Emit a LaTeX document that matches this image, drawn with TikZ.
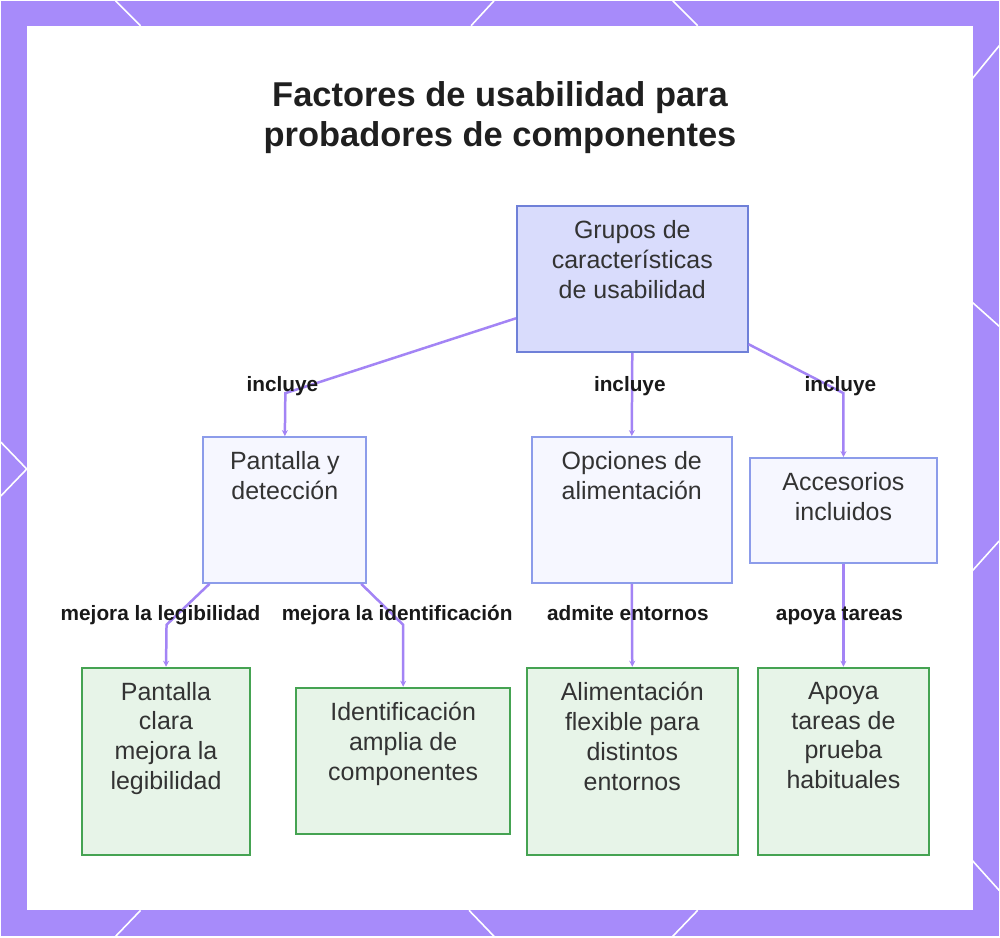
\documentclass[tikz,border=0pt]{standalone}
\usepackage{fontspec}
\setmainfont{Liberation Sans}
\usetikzlibrary{arrows.meta}
\definecolor{bandpurple}{HTML}{A78BFA}
\definecolor{linkpurple}{HTML}{A384F5}
\definecolor{rootfill}{HTML}{D9DCFC}
\definecolor{rootline}{HTML}{6F80D8}
\definecolor{midfill}{HTML}{F6F7FF}
\definecolor{midline}{HTML}{8C9CEA}
\definecolor{leaffill}{HTML}{E7F4E8}
\definecolor{leafline}{HTML}{45A352}
\definecolor{inkgray}{HTML}{333333}

\begin{document}
\begin{tikzpicture}[x=1pt,y=-1pt,
  rootbox/.style={draw=rootline,fill=rootfill,line width=2pt,minimum width=231pt,minimum height=146pt},
  midbox/.style={draw=midline,fill=midfill,line width=2pt},
  leafbox/.style={draw=leafline,fill=leaffill,line width=2pt},
  boxtext/.style={anchor=north,align=center,inner sep=0pt,text=inkgray,font=\fontsize{25}{30}\selectfont},
  linktext/.style={anchor=base,inner sep=0pt,text=black!90,font=\fontsize{20.8}{24}\selectfont\bfseries},
  link/.style={draw=linkpurple,line width=2.5pt,-{Stealth[length=6pt,width=6pt]}}]
% rahmen
\fill[bandpurple] (0,0) rectangle (1000,937);
\foreach \ax/\ay/\bx/\by in {115/0/140/25, 494/0/471/25, 673/0/698/25,
  140/911/115/937, 469/911/494/937, 698/911/673/937,
  973/78/1000/45, 973/302/1000/326, 973/571/1000/541, 973/861/1000/891,
  0/442/26/469, 26/469/0/496}
  {\draw[white,line width=1.6pt] (\ax,\ay) -- (\bx,\by);}
\fill[white] (26,25) rectangle (974,911);

% titel
\node[align=center,inner sep=0pt,text=black!88,font=\fontsize{34.5}{41}\selectfont\bfseries] (title) at (500,117) {Factores de usabilidad para\\probadores de componentes};

% kaesten
\node[rootbox] (root) at (632.5,279) {};
\node[boxtext] (roott) at ([yshift=-15pt]root.north) {Grupos de\\características\\de usabilidad};
\node[midbox,minimum width=163pt,minimum height=146pt] (pant) at (284.5,510) {};
\node[boxtext] (pantt) at ([yshift=-15pt]pant.north) {Pantalla y\\detección};
\node[midbox,minimum width=200pt,minimum height=146pt] (opc) at (632,510) {};
\node[boxtext] (opct) at ([yshift=-15pt]opc.north) {Opciones de\\alimentación};
\node[midbox,minimum width=188pt,minimum height=105pt] (acc) at (844,510.5) {};
\node[boxtext] (acct) at ([yshift=-15pt]acc.north) {Accesorios\\incluidos};

\node[leafbox,minimum width=169pt,minimum height=188pt] (leg) at (165.5,762) {};
\node[boxtext] (legt) at ([yshift=-15pt]leg.north) {Pantalla\\clara\\mejora la\\legibilidad};
\node[leafbox,minimum width=214pt,minimum height=147pt] (ide) at (403,761.5) {};
\node[boxtext] (idet) at ([yshift=-15pt]ide.north) {Identificación\\amplia de\\componentes};
\node[leafbox,minimum width=211pt,minimum height=188pt] (ali) at (632.5,762) {};
\node[boxtext] (alit) at ([yshift=-15pt]ali.north) {Alimentación\\flexible para\\distintos\\entornos};
\node[leafbox,minimum width=172pt,minimum height=188pt] (tar) at (844,762) {};
\node[boxtext] (tart) at ([yshift=-15pt]tar.north) {Apoya\\tareas de\\prueba\\habituales};

% verbindungen
\coordinate (k1) at (285,393);
\coordinate (k2) at (844,393);
\coordinate (k3) at (166,625);
\coordinate (k4) at (403,625);
\draw[link] ([yshift=-39pt]root.west) -- (k1) -- (pant.north);
\draw[link] (root.south) -- (opc.north);
\draw[link] ([yshift=9pt]root.south east) -- (k2) -- (acc.north);
\draw[link] ([xshift=7pt]pant.south west) -- (k3) -- (leg.north);
\draw[link] ([xshift=-6pt]pant.south east) -- (k4) -- (ide.north);
\draw[link] (opc.south) -- (ali.north);
\draw[link] (acc.south) -- (tar.north);

\node[linktext] (l1) at (282,391) {incluye};
\node[linktext] (l2) at (630,391) {incluye};
\node[linktext] (l3) at (841,391) {incluye};
\node[linktext] (l4) at (160,621) {mejora la legibilidad};
\node[linktext] (l5) at (397,621) {mejora la identificación};
\node[linktext] (l6) at (628,621) {admite entornos};
\node[linktext] (l7) at (840,621) {apoya tareas};
\end{tikzpicture}
\end{document}
